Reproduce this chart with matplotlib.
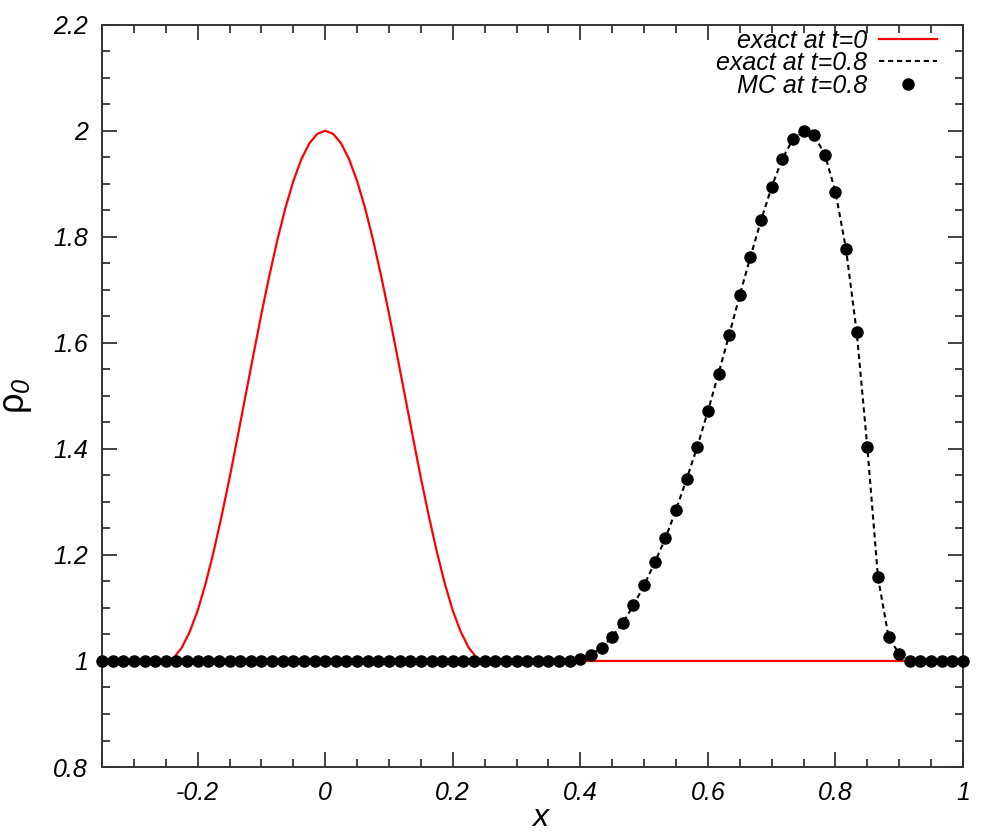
import matplotlib
matplotlib.use("Agg")
import matplotlib.pyplot as plt
import numpy as np
from matplotlib.ticker import MultipleLocator

# ---- data ----
# exact solution at t=0 (red): bump centred at 0, flat at 1 elsewhere
x_t0 = [-0.35, -0.25, -0.2375, -0.225, -0.2125, -0.2, -0.1875, -0.175, -0.1625, -0.15,
        -0.1375, -0.125, -0.1125, -0.1, -0.0875, -0.075, -0.0625, -0.05, -0.0375, -0.025,
        -0.0125, 0.0, 0.0125, 0.025, 0.0375, 0.05, 0.0625, 0.075, 0.0875, 0.1, 0.1125,
        0.125, 0.1375, 0.15, 0.1625, 0.175, 0.1875, 0.2, 0.2125, 0.225, 0.2375, 0.25, 1.0]
rho_t0 = [1.0, 1.0, 1.006, 1.025, 1.055, 1.095, 1.146, 1.206, 1.273, 1.345,
          1.422, 1.5, 1.578, 1.655, 1.727, 1.794, 1.854, 1.905, 1.946, 1.976,
          1.994, 2.0, 1.994, 1.976, 1.946, 1.905, 1.854, 1.794, 1.727, 1.655, 1.578,
          1.5, 1.422, 1.345, 1.273, 1.206, 1.146, 1.095, 1.055, 1.025, 1.006, 1.0, 1.0]

# MC points at t=0.8 (82 cells from -0.35 to 1.0); values in the bump, else 1
n_cells = 82
x_mc = [-0.35 + k / 60.0 for k in range(n_cells)]
rho_mc_bump = {  # index counted from the right end (x = 1 - j/60)
    6: 1.013, 7: 1.045, 8: 1.158, 9: 1.403, 10: 1.620, 11: 1.776, 12: 1.885,
    13: 1.955, 14: 1.991, 15: 1.999, 16: 1.984, 17: 1.947, 18: 1.894, 19: 1.831,
    20: 1.762, 21: 1.690, 22: 1.615, 23: 1.542, 24: 1.471, 25: 1.404, 26: 1.343,
    27: 1.285, 28: 1.231, 29: 1.186, 30: 1.143, 31: 1.105, 32: 1.072, 33: 1.046,
    34: 1.025, 35: 1.012, 36: 1.003,
}
rho_mc = [rho_mc_bump.get(n_cells - 1 - k, 1.0) for k in range(n_cells)]

# exact solution at t=0.8 (dashed) follows the same profile
x_t08 = x_mc
rho_t08 = rho_mc

x_ticks = [-0.2, 0, 0.2, 0.4, 0.6, 0.8, 1]
x_tick_labels = ["-0.2", "0", "0.2", "0.4", "0.6", "0.8", "1"]
y_ticks = [0.8, 1, 1.2, 1.4, 1.6, 1.8, 2, 2.2]
y_tick_labels = ["0.8", "1", "1.2", "1.4", "1.6", "1.8", "2", "2.2"]

# ---- style ----
plt.rcParams['font.family'] = ['Liberation Sans', 'DejaVu Sans']
plt.rcParams['font.style'] = 'italic'
plt.rcParams['mathtext.fontset'] = 'custom'
plt.rcParams['mathtext.rm'] = 'Liberation Sans'
plt.rcParams['mathtext.it'] = 'Liberation Sans:italic'

fig = plt.figure(figsize=(10, 8.33), dpi=100)
ax = fig.add_axes([0.102, 0.0792, 0.861, 0.8912])

ax.plot(x_t0, rho_t0, color='#ff0000', lw=1.6, label='exact at t=0', zorder=2)
ax.plot(x_t08, rho_t08, color='black', lw=1.5, dashes=(2.5, 1.8), label='exact at t=0.8', zorder=3)
ax.plot(x_mc, rho_mc, 'o', color='black', ms=8, mec='black', label='MC at t=0.8', zorder=4, clip_on=False)

ax.set_xlim(-0.35, 1.0)
ax.set_ylim(0.8, 2.2)
ax.set_xticks(x_ticks)
ax.set_xticklabels(x_tick_labels, fontsize=18, style='italic')
ax.set_yticks(y_ticks)
ax.set_yticklabels(y_tick_labels, fontsize=18, style='italic')
ax.xaxis.set_minor_locator(MultipleLocator(0.05))
ax.yaxis.set_minor_locator(MultipleLocator(0.05))
ax.tick_params(which='both', direction='in', top=True, right=True, color='#333333', width=1.3)
ax.tick_params(which='major', length=10.5, pad=10)
ax.tick_params(which='minor', length=5.5)
for s in ax.spines.values():
    s.set_linewidth(1.4)
    s.set_color('#333333')

ax.set_xlabel('x', fontsize=23, style='italic', labelpad=0)
ax.xaxis.set_label_coords(0.509, -0.048)
ax.set_ylabel(r'ρ$_{\mathit{0}}$', fontsize=26, style='normal')
ax.yaxis.set_label_coords(-0.079, 0.5)

leg = ax.legend(loc='upper right', frameon=False, markerfirst=False, fontsize=18,
                handlelength=2.3, handletextpad=0.5, labelspacing=-0.06,
                borderaxespad=0.0, borderpad=0.4, bbox_to_anchor=(0.981, 1.008))
for t in leg.get_texts():
    t.set_ha('right')
    t.set_style('italic')

fig.savefig('out.png', dpi=100)
